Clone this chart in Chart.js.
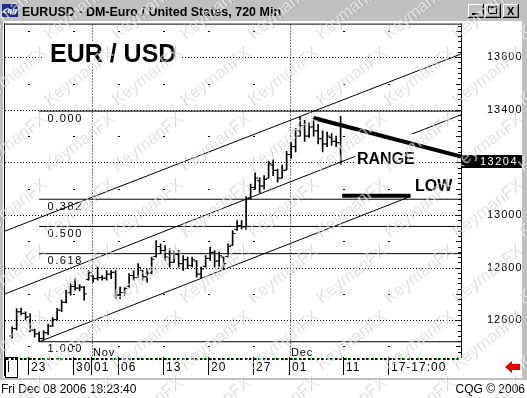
<!DOCTYPE html>
<html>
<head>
<meta charset="utf-8">
<script src="https://cdn.jsdelivr.net/npm/chart.js@4.4.1/dist/chart.umd.min.js"></script>
<style>
html, body { margin: 0; padding: 0; background: #fff; overflow: hidden; }
canvas { display: block; }
</style>
</head>
<body>
<canvas id="myChart" width="527" height="398"></canvas>
<script>
// 720 min bars, two per day, first bar = Oct 19 (slot -4, Oct 23 = slot 0)
var firstSlot = -4;
var opens  = [12540,12568,12632,12626,12612,12562,12548,12530,12552,12578,12602,12638,12668,12705,12728,12722,12726,12755,12768,12758,
              12762,12760,12775,12782,12695,12705,12728,12770,12762,12790,12765,12780,12842,12880,12865,12840,12820,12850,12815,12830,
              12808,12825,12775,12805,12835,12858,12825,12840,12842,12885,12945,12960,12955,13065,13105,13130,13110,13140,13190,13170,
              13140,13170,13230,13260,13300,13340,13300,13335,13320,13290,13270,13295,13280,13275];
var highs  = [12575,12644,12646,12632,12625,12566,12556,12560,12585,12610,12645,12676,12714,12739,12758,12735,12728,12789,12770,12802,
              12770,12789,12789,12789,12726,12726,12777,12789,12815,12789,12796,12840,12903,12890,12884,12871,12865,12865,12846,12840,
              12840,12827,12802,12846,12878,12865,12859,12840,12890,12941,12979,12979,13070,13118,13160,13142,13150,13205,13210,13175,
              13190,13242,13275,13330,13372,13360,13350,13369,13345,13320,13315,13310,13300,13375];
var lows   = [12531,12562,12620,12600,12556,12535,12518,12525,12545,12575,12600,12632,12666,12695,12714,12712,12676,12752,12745,12752,
              12752,12752,12758,12682,12682,12695,12726,12752,12764,12752,12745,12777,12840,12852,12827,12802,12821,12802,12789,12796,
              12802,12764,12758,12802,12827,12802,12802,12796,12840,12884,12941,12947,12945,13060,13098,13085,13098,13140,13150,13125,
              13140,13172,13215,13240,13300,13280,13295,13300,13270,13240,13260,13265,13260,13193];
var closes = [12568,12632,12626,12612,12562,12548,12530,12552,12578,12602,12638,12668,12705,12728,12722,12726,12700,12780,12758,12762,
              12760,12775,12782,12695,12705,12720,12770,12762,12800,12765,12778,12832,12880,12865,12840,12820,12850,12815,12830,12808,
              12830,12775,12795,12835,12858,12825,12845,12815,12880,12930,12960,12955,13062,13105,13140,13110,13135,13195,13170,13140,
              13170,13230,13260,13320,13340,13300,13335,13320,13290,13270,13300,13280,13275,13204];

// x axis ticks (slot numbers) and their labels
var xTickPos  = [0, 10, 14, 20, 30, 40, 50, 58, 70, 80];
var xTickText = ['23', '30', '01', '06', '13', '20', '27', '01', '11', '17-17:00'];
var monthPos  = [14, 58];
var monthText = ['Nov', 'Dec'];
var xMin = -5.333, xMax = 96;

// price axis
var yMin = 12460, yMax = 13724;
var yLabelStep = 200, yMinorStep = 20;
var lastPrice = 13204;

// fibonacci retracement
var fibHigh = 13395, fibLow = 12518, fibStart = 2.25;
var fibRatios = [0, 0.382, 0.5, 0.618, 1];

// channel lines [slot, price]
var chanUpper = [[-5.333, 12939], [96, 13612]];
var chanMid   = [[-5.333, 12700], [96, 13381]];
var chanLow   = [[2.25, 12518], [84.7, 13070]];
var rangeLine = [[63.25, 13369], [96, 13222]];
var lowLine   = [[69.6, 13073], [84.8, 13073]];

var hl = [], op = [], cl = [];
for (var i = 0; i < highs.length; i++) {
  var u = firstSlot + i + 0.25;
  hl.push({x: u, y: [lows[i], highs[i]]});
  op.push({x: u - 0.33, y: opens[i]});
  cl.push({x: u + 0.33, y: closes[i]});
}

function seg(pts, label, width, order) {
  return {
    type: 'line', label: label, order: order,
    data: pts.map(function(p) { return {x: p[0], y: p[1]}; }),
    borderColor: '#000', borderWidth: width, pointRadius: 0, fill: false, tension: 0
  };
}

var datasets = [];
datasets.push({type: 'bar', label: 'hl', data: hl, backgroundColor: '#000', barThickness: 1, order: 3});
datasets.push({type: 'line', label: 'open', data: op, showLine: false, pointStyle: 'line', pointRadius: 1.4,
  borderColor: '#000', pointBorderColor: '#000', borderWidth: 1, pointBorderWidth: 1, order: 3});
datasets.push({type: 'line', label: 'close', data: cl, showLine: false, pointStyle: 'line', pointRadius: 1.4,
  borderColor: '#000', pointBorderColor: '#000', borderWidth: 1, pointBorderWidth: 1, order: 3});
fibRatios.forEach(function(r) {
  var lvl = fibHigh - r * (fibHigh - fibLow);
  datasets.push(seg([[fibStart, lvl], [xMax, lvl]], 'fib', 1, 4));
});
datasets.push(seg(chanUpper, 'chan', 1, 5));
datasets.push(seg(chanMid, 'chan', 1, 5));
datasets.push(seg(chanLow, 'chan', 1, 5));
datasets.push(seg(lowLine, 'LOW', 4, 1));
datasets.push(seg(rangeLine, 'RANGE', 4, 0));

function spaced(g, txt, x, y, sp) {
  for (var k = 0; k < txt.length; k++) {
    g.fillText(txt[k], x, y);
    x += g.measureText(txt[k]).width + sp;
  }
}

var chrome = {
  id: 'chrome',
  beforeDraw: function(c) {
    var g = c.ctx;
    g.save();
    g.fillStyle = '#c0c0c0';
    g.fillRect(0, 0, 527, 398);
    g.fillStyle = '#fff';
    g.fillRect(3, 21, 519, 357);
    // title bar
    g.fillStyle = '#1c2c8c';
    g.fillRect(2, 4, 16, 13);
    g.fillStyle = '#fff';
    g.font = 'italic bold 7px "DejaVu Sans"';
    g.fillText('cqg', 3, 13);
    g.fillStyle = '#000';
    g.font = 'bold 12.5px "Liberation Sans"';
    g.fillText('EURUSD - DM-Euro / United States, 720 Min', 22, 16);
    var bx = [468, 485, 503];
    bx.forEach(function(x, k) {
      g.fillStyle = '#c0c0c0'; g.fillRect(x, 4, 16, 14);
      g.fillStyle = '#fff'; g.fillRect(x, 4, 15, 1); g.fillRect(x, 4, 1, 13);
      g.fillStyle = '#000'; g.fillRect(x, 17, 16, 1); g.fillRect(x + 15, 4, 1, 14);
      g.fillStyle = '#808080'; g.fillRect(x + 1, 16, 14, 1); g.fillRect(x + 14, 5, 1, 12);
      g.fillStyle = '#000';
      if (k === 0) g.fillRect(x + 4, 13, 6, 2);
      if (k === 1) { g.strokeStyle = '#000'; g.lineWidth = 1; g.strokeRect(x + 3.5, 6.5, 8, 7); g.fillRect(x + 3, 6, 9, 2); }
      if (k === 2) { g.font = 'bold 11px "Liberation Sans"'; g.fillText('X', x + 4, 15); }
    });
    // status bar
    g.fillStyle = '#fff';
    g.fillRect(0, 380, 527, 18);
    g.fillStyle = '#000';
    g.font = '12px "Liberation Sans"';
    g.fillText('Fri Dec 08 2006 18:23:40', 1, 393);
    g.textAlign = 'right';
    g.fillText('CQG \u00a9 2006', 525, 393);
    g.restore();
    g.letterSpacing = '1px';
  },
  beforeDatasetsDraw: function(c) {
    var g = c.ctx, a = c.chartArea, sx = c.scales.x, sy = c.scales.y;
    g.letterSpacing = '0px';
    // dotted grid: price levels and month starts
    g.save();
    g.strokeStyle = '#000';
    g.lineWidth = 1;
    g.setLineDash([1, 2]);
    g.beginPath();
    for (var v = yMin - yMin % yLabelStep + yLabelStep; v < yMax; v += yLabelStep) {
      var y = Math.round(sy.getPixelForValue(v)) + 0.5;
      g.moveTo(a.left, y); g.lineTo(a.right, y);
    }
    monthPos.forEach(function(m) {
      var x = Math.round(sx.getPixelForValue(m)) + 0.5;
      g.moveTo(x, a.top); g.lineTo(x, a.bottom);
    });
    g.stroke();
    g.restore();
  },
  beforeDatasetDraw: function(c, args) {
    if (c.data.datasets[args.index].label !== 'LOW') return;
    var g = c.ctx;
    g.save();
    g.fillStyle = '#fff';
    g.fillRect(44, 41, 137, 23);
    g.fillRect(355, 134, 63, 34);
    g.fillStyle = '#000';
    g.font = 'bold 25px "Liberation Sans"';
    g.fillText('EUR / USD', 50, 62);
    g.font = 'bold 16px "Liberation Sans"';
    g.fillText('RANGE', 357, 164);
    g.fillText('LOW', 415, 191);
    g.restore();
  },
  afterDatasetsDraw: function(c) {
    var g = c.ctx, a = c.chartArea, sx = c.scales.x, sy = c.scales.y;
    g.save();
    g.fillStyle = '#000';
    // fib labels
    g.font = '11px "Liberation Sans"';
    g.textBaseline = 'top';
    fibRatios.forEach(function(r) {
      var lvl = fibHigh - r * (fibHigh - fibLow);
      spaced(g, r.toFixed(3), sx.getPixelForValue(4.1), sy.getPixelForValue(lvl) + 2, 1.6);
    });
    // month labels
    g.textBaseline = 'alphabetic';
    monthPos.forEach(function(m, k) {
      spaced(g, monthText[k], sx.getPixelForValue(m) + 1, a.bottom - 1, 0.8);
    });
    // week dashes at odd hundreds
    for (var v = 12500; v < yMax; v += 200) {
      xTickPos.forEach(function(t) {
        if (monthPos.indexOf(t) >= 0) return;
        g.fillRect(Math.round(sx.getPixelForValue(t)) - 1, Math.round(sy.getPixelForValue(v)), 2, 1);
      });
    }
    // frame
    g.fillRect(a.left - 1, a.top - 1, a.right - a.left + 2, 1);
    g.fillRect(a.left - 1, a.top - 1, 1, a.bottom - a.top + 20);
    g.fillRect(a.right, a.top - 1, 1, a.bottom - a.top + 2);
    // inward minor ticks on price axis
    for (var p = yMin - yMin % yMinorStep + yMinorStep; p < yMax; p += yMinorStep) {
      var len = p % 100 === 0 ? 5 : 3;
      g.fillRect(a.right - len, Math.round(sy.getPixelForValue(p)), len, 1);
    }
    // time strip
    for (var s = -5; s < xMax; s++) {
      var xx = Math.round(sx.getPixelForValue(s));
      g.fillStyle = '#000';
      g.fillRect(xx, a.bottom + 1, 2, 2);
      g.fillStyle = '#00b000';
      g.fillRect(xx + 2, a.bottom + 1, 1, 2);
    }
    g.fillStyle = '#fff';
    g.fillRect(a.left, a.bottom + 4, 12, 17);
    g.strokeStyle = '#000';
    g.lineWidth = 1;
    g.strokeRect(a.left + 0.5, a.bottom + 0.5, 12, 20);
    g.fillStyle = '#000';
    g.fillRect(a.left + 3, a.bottom + 4, 1, 11);
    // last price box
    var ly = Math.round(sy.getPixelForValue(lastPrice));
    g.fillRect(a.right + 1, ly - 6, 60, 13);
    g.fillStyle = '#fff';
    g.font = '11px "Liberation Sans"';
    g.textBaseline = 'middle';
    spaced(g, String(lastPrice), a.right + 19, ly + 1, 1.5);
    // red arrow
    g.fillStyle = '#e00000';
    g.beginPath();
    g.moveTo(505, 367); g.lineTo(512, 361); g.lineTo(512, 364); g.lineTo(520, 364);
    g.lineTo(520, 370); g.lineTo(512, 370); g.lineTo(512, 373); g.closePath();
    g.fill();
    g.restore();
  },
  afterDraw: function(c) {
    var g = c.ctx;
    g.save();
    g.font = '17px "Liberation Sans"';
    for (var r = -2; r < 8; r++) {
      for (var k = -2; k < 10; k++) {
        var x = k * 68 - 20;
        var y = r * 66 + 40;
        g.save();
        g.translate(x, y);
        g.rotate(-0.66);
        g.fillStyle = 'rgba(110,110,110,0.26)';
        g.fillText('KeymanFX', 1, 1);
        g.fillStyle = 'rgba(255,255,255,0.6)';
        g.fillText('KeymanFX', 0, 0);
        g.restore();
      }
    }
    g.restore();
  }
};

Chart.defaults.font.family = '"Liberation Sans"';

var myChart = new Chart(document.getElementById('myChart'), {
  type: 'bar',
  data: {datasets: datasets},
  options: {
    responsive: false,
    animation: false,
    devicePixelRatio: 1,
    layout: {padding: {left: 5, top: 23, right: 5, bottom: 21}},
    plugins: {legend: {display: false}, tooltip: {enabled: false}},
    scales: {
      x: {
        type: 'linear', min: xMin, max: xMax, offset: false,
        afterBuildTicks: function(s) { s.ticks = xTickPos.map(function(v) { return {value: v}; }); },
        afterFit: function(s) { s.height = 20; },
        grid: {offset: false, drawOnChartArea: false, drawTicks: true, tickLength: 18, tickWidth: 1, tickColor: '#000', color: '#000'},
        border: {display: false},
        ticks: {
          autoSkip: false, maxRotation: 0, align: 'start', labelOffset: 2, padding: -15,
          color: '#000', font: {size: 12},
          callback: function(v) { var k = xTickPos.indexOf(v); return k >= 0 ? xTickText[k] : ''; }
        }
      },
      y: {
        position: 'right', min: yMin, max: yMax,
        afterBuildTicks: function(s) {
          var t = [];
          for (var v = yMin - yMin % yLabelStep + yLabelStep; v < yMax; v += yLabelStep) t.push({value: v});
          s.ticks = t;
        },
        afterFit: function(s) { s.width = 61; },
        grid: {display: false},
        border: {display: false},
        ticks: {padding: 18, color: '#000', font: {size: 11}, callback: function(v) { return String(v); }}
      }
    }
  },
  plugins: [chrome]
});
</script>
</body>
</html>
